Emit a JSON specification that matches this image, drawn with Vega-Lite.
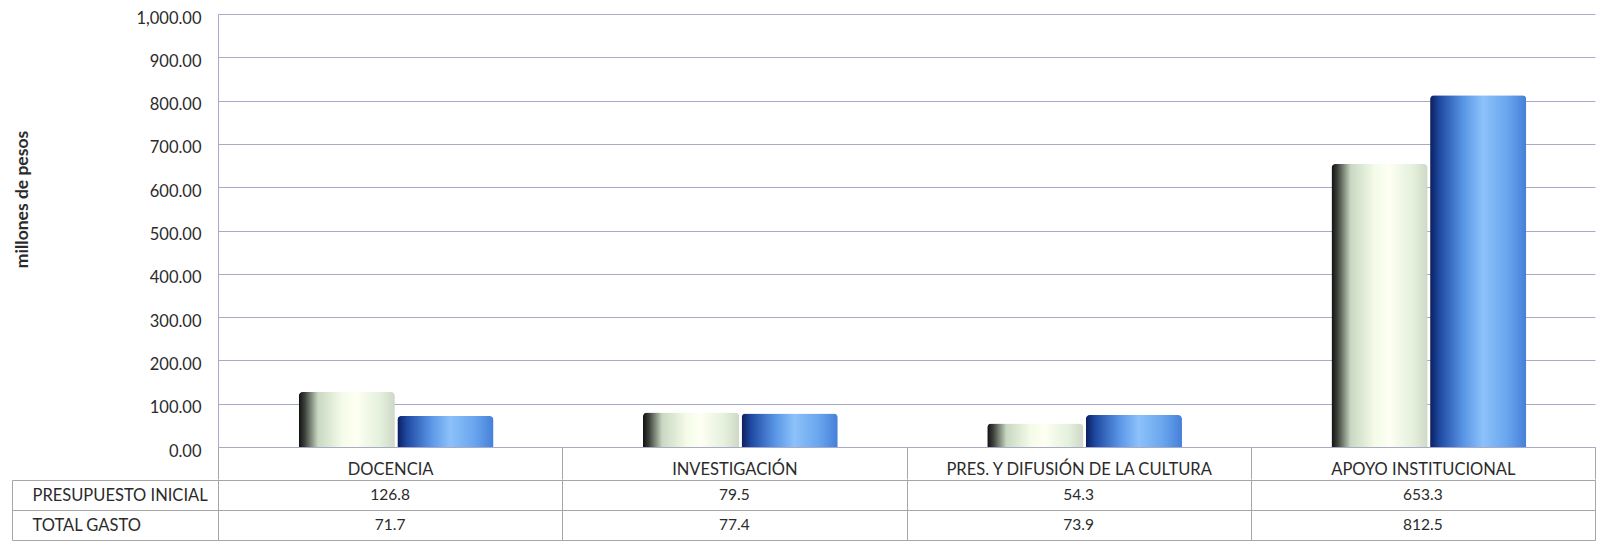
{
  "$schema": "https://vega.github.io/schema/vega-lite/v6.json",
  "background": "white",
  "padding": {"left": 11, "top": 10, "right": 0, "bottom": 0},
  "spacing": -10,
  "config": {
    "font": "Lato",
    "view": {"stroke": null}
  },
  "datasets": {
    "gasto": [
      {"area": "DOCENCIA", "serie": "PRESUPUESTO INICIAL", "valor": 126.8},
      {"area": "DOCENCIA", "serie": "TOTAL GASTO", "valor": 71.7},
      {"area": "INVESTIGACIÓN", "serie": "PRESUPUESTO INICIAL", "valor": 79.5},
      {"area": "INVESTIGACIÓN", "serie": "TOTAL GASTO", "valor": 77.4},
      {"area": "PRES. Y DIFUSIÓN DE LA CULTURA", "serie": "PRESUPUESTO INICIAL", "valor": 54.3},
      {"area": "PRES. Y DIFUSIÓN DE LA CULTURA", "serie": "TOTAL GASTO", "valor": 73.9},
      {"area": "APOYO INSTITUCIONAL", "serie": "PRESUPUESTO INICIAL", "valor": 653.3},
      {"area": "APOYO INSTITUCIONAL", "serie": "TOTAL GASTO", "valor": 812.5}
    ]
  },
  "vconcat": [
    {
      "width": 1377,
      "height": 433,
      "data": {"name": "gasto"},
      "encoding": {
        "x": {
          "field": "area", "type": "nominal", "sort": null,
          "scale": {"paddingInner": 0, "paddingOuter": 0},
          "axis": {
            "title": null, "labelAngle": 0, "tickBand": "extent", "tickSize": 32,
            "tickColor": "#a6a6a6", "domainColor": "#a9a9c8", "labelPadding": -10,
            "labelBaseline": "middle", "labelFontSize": 16.5, "labelColor": "#2b2b2b",
            "labelLimit": 0, "minExtent": 32, "maxExtent": 32
          }
        },
        "xOffset": {
          "field": "serie", "type": "nominal",
          "scale": {"domain": ["PRESUPUESTO INICIAL", "TOTAL GASTO"], "paddingOuter": 0.758, "paddingInner": 0.025, "align": 0.54}
        },
        "y": {
          "field": "valor", "type": "quantitative",
          "scale": {"domain": [0, 1000]},
          "axis": {
            "values": [0, 100, 200, 300, 400, 500, 600, 700, 800, 900, 1000],
            "format": ",.2f", "title": "millones de pesos", "titleFontSize": 17.5,
            "titleFontWeight": "bold", "titleColor": "#2b2b2b", "titlePadding": 104,
            "titleY": 185,
            "ticks": false, "labelFontSize": 16.5, "labelPadding": 17, "labelOffset": 4,
            "labelColor": "#2b2b2b", "gridColor": "#a9a9c8", "domainColor": "#a9a9c8"
          }
        }
      },
      "layer": [
        {
          "transform": [{"filter": "datum.serie === 'PRESUPUESTO INICIAL'"}],
          "mark": {
            "type": "bar", "cornerRadiusTopLeft": 4, "cornerRadiusTopRight": 4,
            "color": {
              "gradient": "linear", "x1": 0, "x2": 1, "y1": 0, "y2": 0,
              "stops": [
                {"offset": 0, "color": "#111111"},
                {"offset": 0.06, "color": "#3a3f38"},
                {"offset": 0.2, "color": "#c9d8c2"},
                {"offset": 0.45, "color": "#f4fbe8"},
                {"offset": 0.6, "color": "#fdfff2"},
                {"offset": 0.85, "color": "#e4f0dc"},
                {"offset": 1, "color": "#cdd9c6"}
              ]
            }
          }
        },
        {
          "transform": [{"filter": "datum.serie === 'TOTAL GASTO'"}],
          "mark": {
            "type": "bar", "cornerRadiusTopLeft": 4, "cornerRadiusTopRight": 4,
            "color": {
              "gradient": "linear", "x1": 0, "x2": 1, "y1": 0, "y2": 0,
              "stops": [
                {"offset": 0, "color": "#0b1f5e"},
                {"offset": 0.1, "color": "#1f4aa2"},
                {"offset": 0.35, "color": "#5a96e6"},
                {"offset": 0.55, "color": "#8cc2fa"},
                {"offset": 0.8, "color": "#6aa6ee"},
                {"offset": 1, "color": "#4580d8"}
              ]
            }
          }
        }
      ]
    },
    {
      "width": 1377,
      "height": 60,
      "data": {"name": "gasto"},
      "view": {"stroke": "#a6a6a6"},
      "mark": {"type": "text", "fontSize": 15.5, "color": "#2b2b2b"},
      "encoding": {
        "x": {
          "field": "area", "type": "nominal", "sort": null,
          "scale": {"paddingInner": 0, "paddingOuter": 0},
          "axis": {
            "orient": "bottom", "title": null, "labels": false, "ticks": false, "domain": false,
            "grid": true, "tickBand": "extent", "gridColor": "#a6a6a6"
          }
        },
        "y": {
          "field": "serie", "type": "nominal",
          "scale": {"domain": ["PRESUPUESTO INICIAL", "TOTAL GASTO"], "paddingInner": 0, "paddingOuter": 0},
          "axis": {
            "title": null, "tickBand": "extent", "grid": true, "gridColor": "#a6a6a6",
            "offset": 206, "tickSize": -206, "tickColor": "#a6a6a6", "domainColor": "#a6a6a6",
            "labelAlign": "left", "labelPadding": 186, "labelFontSize": 16.5, "labelColor": "#2b2b2b"
          }
        },
        "text": {"field": "valor", "type": "quantitative", "format": ".1f"}
      }
    }
  ]
}
